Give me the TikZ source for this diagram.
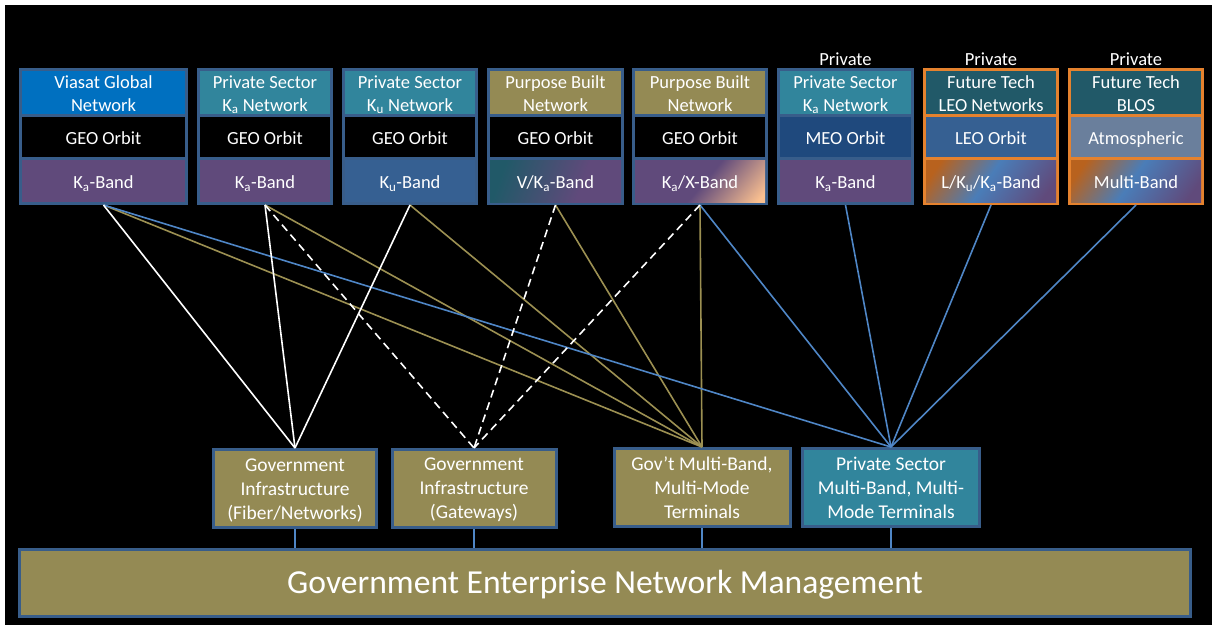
\documentclass[tikz,border=0pt]{standalone}
\usepackage{fontspec}
\setmainfont{Carlito}
\definecolor{cOlive}{HTML}{948A54}
\definecolor{cTeal}{HTML}{31859C}
\definecolor{cVBlue}{HTML}{0070C0}
\definecolor{cPurp}{HTML}{604A7B}
\definecolor{cKuBlue}{HTML}{366092}
\definecolor{cMeo}{HTML}{1F497D}
\definecolor{cDTeal}{HTML}{215968}
\definecolor{cAtmo}{HTML}{6A7F9C}
\definecolor{cBord}{HTML}{385D8A}
\definecolor{cOrngB}{HTML}{E5822E}
\definecolor{cOrngD}{HTML}{B8621E}
\definecolor{cMidBlue}{HTML}{4A7DB8}
\definecolor{cPeach}{HTML}{FAC090}
\definecolor{cLBlue}{HTML}{4F86C6}
\definecolor{cLOlive}{HTML}{9C9052}
\pgfdeclarehorizontalshading{shVKa}{100bp}{color(0bp)=(cDTeal); color(25bp)=(cDTeal); color(62bp)=(cPurp); color(100bp)=(cPurp)}
\pgfdeclarehorizontalshading{shKaX}{100bp}{color(0bp)=(cPurp); color(52bp)=(cPurp); color(82bp)=(cPeach); color(100bp)=(cPeach)}
\pgfdeclarehorizontalshading{shMulti}{100bp}{color(0bp)=(cOrngD); color(22bp)=(cOrngD); color(48bp)=(cMidBlue); color(78bp)=(cPurp); color(100bp)=(cPurp)}
\newcommand{\Ksub}[1]{K\textsubscript{#1}}
\newcommand{\tstr}{\rule[-3pt]{0pt}{20pt}}
\newcommand{\bstr}{\rule[-3pt]{0pt}{19pt}}
\tikzset{
  outer/.style={draw=none, inner sep=0, outer sep=0, anchor=north west, minimum height=137},
  sec/.style={inner sep=0, outer sep=0, anchor=north west, text=white, align=center,
    font=\fontsize{18.5}{23}\selectfont},
  one/.style={text height=16.5, text depth=1},
  plabel/.style={text=white, inner sep=0, font=\fontsize{18.5}{23}\selectfont},
  bbox/.style={draw=cBord, line width=3, inner sep=0, text=white, align=center,
    font=\fontsize{19.5}{24}\selectfont, minimum height=78},
  wline/.style={draw=white, line width=1.6},
  wdash/.style={draw=white, line width=1.6, dash pattern=on 8pt off 5pt},
  oline/.style={draw=cLOlive, line width=1.6},
  bline/.style={draw=cLBlue, line width=1.6},
  vline/.style={draw=cLBlue, line width=2},
}
\begin{document}
\begin{tikzpicture}[x=1pt, y=-1pt]
\path[use as bounding box] (0,0) rectangle (1212,625);
\fill[white] (0,0) rectangle (1212,625);
\fill[black] (5,5) rectangle (1212,625);

% column 1
\node[outer, fill=cBord, minimum width=169] (t1) at (19,68) {};
\node[sec, fill=cVBlue, minimum width=163, minimum height=43] (t1a) at (22,71) {\tstr Viasat Global\\Network\tstr};
\node[sec, one, fill=black, minimum width=163, minimum height=40] (t1b) at (22,117) {GEO Orbit};
\node[sec, one, fill=cPurp, minimum width=163, minimum height=42] (t1c) at (22,160) {\Ksub{a}-Band};
% column 2
\node[outer, fill=cBord, minimum width=136] (t2) at (197,68) {};
\node[sec, fill=cTeal, minimum width=130, minimum height=43] (t2a) at (200,71) {\tstr Private Sector\\\Ksub{a} Network\tstr};
\node[sec, one, fill=black, minimum width=130, minimum height=40] (t2b) at (200,117) {GEO Orbit};
\node[sec, one, fill=cPurp, minimum width=130, minimum height=42] (t2c) at (200,160) {\Ksub{a}-Band};
% column 3
\node[outer, fill=cBord, minimum width=136] (t3) at (342,68) {};
\node[sec, fill=cTeal, minimum width=130, minimum height=43] (t3a) at (345,71) {\tstr Private Sector\\\Ksub{u} Network\tstr};
\node[sec, one, fill=black, minimum width=130, minimum height=40] (t3b) at (345,117) {GEO Orbit};
\node[sec, one, fill=cKuBlue, minimum width=130, minimum height=42] (t3c) at (345,160) {\Ksub{u}-Band};
% column 4
\node[outer, fill=cBord, minimum width=137] (t4) at (487,68) {};
\node[sec, fill=cOlive, minimum width=131, minimum height=43] (t4a) at (490,71) {\tstr Purpose Built\\Network\tstr};
\node[sec, one, fill=black, minimum width=131, minimum height=40] (t4b) at (490,117) {GEO Orbit};
\node[sec, one, shade, shading=shVKa, shading angle=-20, minimum width=131, minimum height=42] (t4c) at (490,160) {V/\Ksub{a}-Band};
% column 5
\node[outer, fill=cBord, minimum width=136] (t5) at (632,68) {};
\node[sec, fill=cOlive, minimum width=130, minimum height=43] (t5a) at (635,71) {\tstr Purpose Built\\Network\tstr};
\node[sec, one, fill=black, minimum width=130, minimum height=40] (t5b) at (635,117) {GEO Orbit};
\node[sec, one, shade, shading=shKaX, shading angle=-40, minimum width=130, minimum height=42] (t5c) at (635,160) {\Ksub{a}/X-Band};
% column 6
\node[outer, fill=cBord, minimum width=137] (t6) at (777,68) {};
\node[sec, fill=cTeal, minimum width=131, minimum height=43] (t6a) at (780,71) {\tstr Private Sector\\\Ksub{a} Network\tstr};
\node[sec, one, fill=cMeo, minimum width=131, minimum height=40] (t6b) at (780,117) {MEO Orbit};
\node[sec, one, fill=cPurp, minimum width=131, minimum height=42] (t6c) at (780,160) {\Ksub{a}-Band};
% column 7
\node[outer, fill=cOrngB, minimum width=136] (t7) at (923,68) {};
\node[sec, fill=cDTeal, minimum width=130, minimum height=43] (t7a) at (926,71) {\tstr Future Tech\\LEO Networks\tstr};
\node[sec, one, fill=cKuBlue, minimum width=130, minimum height=40] (t7b) at (926,117) {LEO Orbit};
\node[sec, one, shade, shading=shMulti, shading angle=-35, minimum width=130, minimum height=42] (t7c) at (926,160) {L/\Ksub{u}/\Ksub{a}-Band};
% column 8
\node[outer, fill=cOrngB, minimum width=136] (t8) at (1068,68) {};
\node[sec, fill=cDTeal, minimum width=130, minimum height=43] (t8a) at (1071,71) {\tstr Future Tech\\BLOS\tstr};
\node[sec, one, fill=cAtmo, minimum width=130, minimum height=40] (t8b) at (1071,117) {Atmospheric};
\node[sec, one, shade, shading=shMulti, shading angle=-35, minimum width=130, minimum height=42] (t8c) at (1071,160) {Multi-Band};

% Private labels
\node[plabel] (p6) at (845.5,59) {Private};
\node[plabel] (p7) at (991,59) {Private};
\node[plabel] (p8) at (1136,59) {Private};

% bottom boxes
\node[bbox, fill=cOlive, minimum width=163] (b1) at (295,488.5) {\bstr Government\\Infrastructure\\(Fiber/Networks)\bstr};
\node[bbox, fill=cOlive, minimum width=164] (b2) at (474,488.5) {\bstr Government\\Infrastructure\\(Gateways)\bstr};
\node[bbox, fill=cOlive, minimum width=176] (b3) at (702,487.5) {\bstr Gov’t Multi-Band,\\Multi-Mode\\Terminals\bstr};
\node[bbox, fill=cTeal, minimum width=177] (b4) at (891,487.5) {\bstr Private Sector\\Multi-Band, Multi-\\Mode Terminals\bstr};
\node[draw=cBord, line width=3, fill=cOlive, inner sep=0, minimum width=1171, minimum height=67,
  text height=22, text depth=2,
  text=white, font=\fontsize{33.6}{40}\selectfont] (bar) at (605,583) {Government Enterprise Network Management};

% bar connectors
\draw[vline] (b1.south) -- (b1.south |- bar.north);
\draw[vline] (b2.south) -- (b2.south |- bar.north);
\draw[vline] (b3.south) -- (b3.south |- bar.north);
\draw[vline] (b4.south) -- (b4.south |- bar.north);

% olive connectors to Gov't terminals
\draw[oline] (t1.south) -- (b3.north);
\draw[oline] (t2.south) -- (b3.north);
\draw[oline] (t3.south) -- (b3.north);
\draw[oline] (t4.south) -- (b3.north);
\draw[oline] (t5.south) -- (b3.north);
% blue connectors to private terminals
\draw[bline] (t1.south) -- (b4.north);
\draw[bline] (t5.south) -- (b4.north);
\draw[bline] (t6.south) -- (b4.north);
\draw[bline] (t7.south) -- (b4.north);
\draw[bline] (t8.south) -- (b4.north);
% white connectors to fiber
\draw[wline] (t1.south) -- (b1.north);
\draw[wline] (t2.south) -- (b1.north);
\draw[wline] (t3.south) -- (b1.north);
% dashed to gateways
\draw[wdash] (t2.south) -- (b2.north);
\draw[wdash] (t4.south) -- (b2.north);
\draw[wdash] (t5.south) -- (b2.north);
\end{tikzpicture}
\end{document}
